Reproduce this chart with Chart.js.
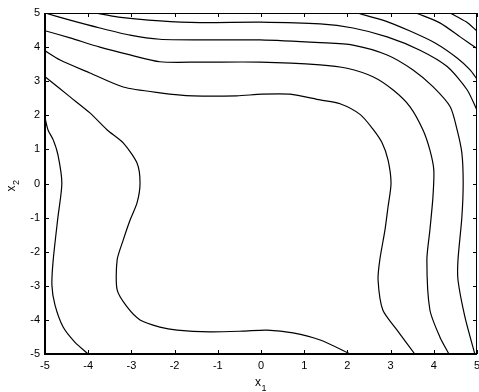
<!DOCTYPE html>
<html><head><meta charset="utf-8">
<script src="https://cdn.jsdelivr.net/npm/chart.js@4"></script>
<style>html,body{margin:0;padding:0;background:#fff;}#wrap{width:479px;height:392px;}</style>
</head><body><div id="wrap"><canvas id="c" width="479" height="392"></canvas></div>
<script>
const xTicks = [-5,-4,-3,-2,-1,0,1,2,3,4,5];
const yTicks = [-5,-4,-3,-2,-1,0,1,2,3,4,5];
const xTitle = ['x','1'];
const yTitle = ['x','2'];

const contour1 = [[-3.84,5],[-3.3,4.88],[-2.34,4.77],[-1.41,4.72],[-0.02,4.73],[1.37,4.68],[2.13,4.56],[2.92,4.30],[3.68,3.91],[4.31,3.43],[4.77,2.75],[5,2.15]];
const contour2 = [[-5,5],[-4.42,4.79],[-3.73,4.56],[-3.03,4.35],[-2.34,4.23],[-1.41,4.21],[-0.02,4.21],[1.37,4.13],[2.13,4.06],[2.92,3.77],[3.52,3.33],[3.98,2.84],[4.38,2.25],[4.54,1.57],[4.65,0.89],[4.68,0.01],[4.65,-0.98],[4.56,-2.24],[4.56,-2.83],[4.72,-3.91],[4.95,-5]];
const contour3 = [[-5,4.48],[-4.42,4.27],[-3.73,4.0],[-3.03,3.77],[-2.34,3.57],[-1.41,3.56],[-0.02,3.56],[1.37,3.48],[1.99,3.38],[2.59,3.13],[3.06,2.74],[3.45,2.25],[3.75,1.57],[3.91,0.98],[4.0,0.40],[3.98,-0.40],[3.91,-1.36],[3.84,-2.24],[3.91,-3.71],[4.14,-4.50],[4.35,-5]];
const contour4 = [[-5,3.89],[-4.65,3.62],[-3.96,3.24],[-3.19,2.83],[-2.34,2.66],[-1.57,2.57],[-0.56,2.57],[0.02,2.62],[0.67,2.62],[1.37,2.45],[1.83,2.34],[2.30,2.02],[2.60,1.58],[2.80,1.20],[2.94,0.69],[3.01,0.01],[2.94,-0.69],[2.87,-1.36],[2.75,-2.24],[2.71,-2.83],[2.82,-3.71],[3.15,-4.30],[3.56,-5]];
const contour5 = [[-5,3.13],[-4.42,2.54],[-3.96,2.07],[-3.56,1.57],[-3.19,1.19],[-2.87,0.60],[-2.80,0.01],[-2.87,-0.57],[-3.03,-1.07],[-3.19,-1.66],[-3.33,-2.24],[-3.33,-3.12],[-3.10,-3.62],[-2.80,-4.0],[-2.34,-4.21],[-1.94,-4.30],[-1.18,-4.35],[-0.42,-4.33],[0.14,-4.30],[0.74,-4.38],[1.37,-4.59],[2.07,-5]];
const contour6 = [[-5,1.92],[-4.93,1.57],[-4.81,1.28],[-4.70,0.84],[-4.61,0.01],[-4.70,-0.98],[-4.81,-2.24],[-4.84,-2.98],[-4.77,-3.56],[-4.58,-4.21],[-4.31,-4.65],[-4.0,-5]];
const contour7 = [[2.22,5],[2.87,4.77],[3.45,4.47],[4.03,4.12],[4.54,3.68],[4.84,3.33],[5,3.06]];
const contour8 = [[3.59,5],[4.14,4.71],[4.61,4.30],[5,3.96]];
const contour9 = [[4.38,5],[4.75,4.74],[5,4.47]];

const contours = [contour1,contour2,contour3,contour4,contour5,contour6,contour7,contour8,contour9];
const FONT = "'Liberation Sans', Arial, sans-serif";

const framePlugin = {
  id: 'frame',
  afterDraw(chart) {
    const ctx = chart.ctx, a = chart.chartArea;
    const xs = chart.scales.x, ys = chart.scales.y;
    ctx.save();
    ctx.strokeStyle = '#000';
    ctx.lineWidth = 1;
    ctx.beginPath();
    ctx.moveTo(a.left, a.top + 0.5); ctx.lineTo(a.right, a.top + 0.5);
    ctx.moveTo(a.right - 0.5, a.top); ctx.lineTo(a.right - 0.5, a.bottom);
    ctx.stroke();
    ctx.lineWidth = 2;
    ctx.beginPath();
    ctx.moveTo(a.left, a.top); ctx.lineTo(a.left, a.bottom);
    ctx.moveTo(a.left - 1, a.bottom); ctx.lineTo(a.right, a.bottom);
    ctx.stroke();
    ctx.lineWidth = 1;
    ctx.beginPath();
    const tl = 4;
    xTicks.forEach(v => {
      const px = Math.round(xs.getPixelForValue(v)) + 0.5;
      ctx.moveTo(px, a.bottom); ctx.lineTo(px, a.bottom - tl);
      ctx.moveTo(px, a.top); ctx.lineTo(px, a.top + tl);
    });
    yTicks.forEach(v => {
      const py = Math.round(ys.getPixelForValue(v)) + 0.5;
      ctx.moveTo(a.left, py); ctx.lineTo(a.left + tl, py);
      ctx.moveTo(a.right, py); ctx.lineTo(a.right - tl, py);
    });
    ctx.stroke();
    ctx.fillStyle = '#000';
    ctx.textBaseline = 'alphabetic';
    ctx.textAlign = 'left';
    ctx.font = '12px ' + FONT;
    const cx = (a.left + a.right) / 2;
    const wx = ctx.measureText(xTitle[0]).width;
    ctx.fillText(xTitle[0], cx - 6, 386);
    ctx.font = '9px ' + FONT;
    ctx.fillText(xTitle[1], cx - 6 + wx + 0.5, 391);
    ctx.save();
    const cy = (a.top + a.bottom) / 2;
    ctx.translate(15, cy + 8);
    ctx.rotate(-Math.PI / 2);
    ctx.font = '12px ' + FONT;
    const wy = ctx.measureText(yTitle[0]).width;
    ctx.fillText(yTitle[0], 0, 0);
    ctx.font = '9px ' + FONT;
    ctx.fillText(yTitle[1], wy + 0.5, 4);
    ctx.restore();
    ctx.restore();
  }
};

new Chart(document.getElementById('c'), {
  type: 'scatter',
  data: {
    datasets: contours.map(c => ({
      data: c.map(p => ({x: p[0], y: p[1]})),
      showLine: true,
      borderColor: '#000',
      borderWidth: 1.2,
      pointRadius: 0,
      tension: 0.25,
      fill: false
    }))
  },
  options: {
    responsive: false,
    animation: false,
    devicePixelRatio: 1,
    layout: {padding: {left: 0, right: 2, top: 13, bottom: 0}},
    plugins: {legend: {display: false}, tooltip: {enabled: false}},
    scales: {
      x: {
        type: 'linear', min: -5, max: 5,
        afterBuildTicks: s => { s.ticks = xTicks.map(v => ({value: v})); },
        afterFit: s => { s.height = 38; s.paddingLeft = 0; s.paddingRight = 0; },
        grid: {display: false, drawTicks: false},
        border: {display: false},
        ticks: {color: '#000', font: {family: FONT, size: 11}, padding: 5, maxRotation: 0, autoSkip: false}
      },
      y: {
        type: 'linear', min: -5, max: 5,
        afterBuildTicks: s => { s.ticks = yTicks.map(v => ({value: v})); },
        afterFit: s => { s.width = 45; s.paddingTop = 0; s.paddingBottom = 0; },
        grid: {display: false, drawTicks: false},
        border: {display: false},
        ticks: {color: '#000', font: {family: FONT, size: 11}, padding: 5, autoSkip: false}
      }
    }
  },
  plugins: [framePlugin]
});
</script>
</body></html>
